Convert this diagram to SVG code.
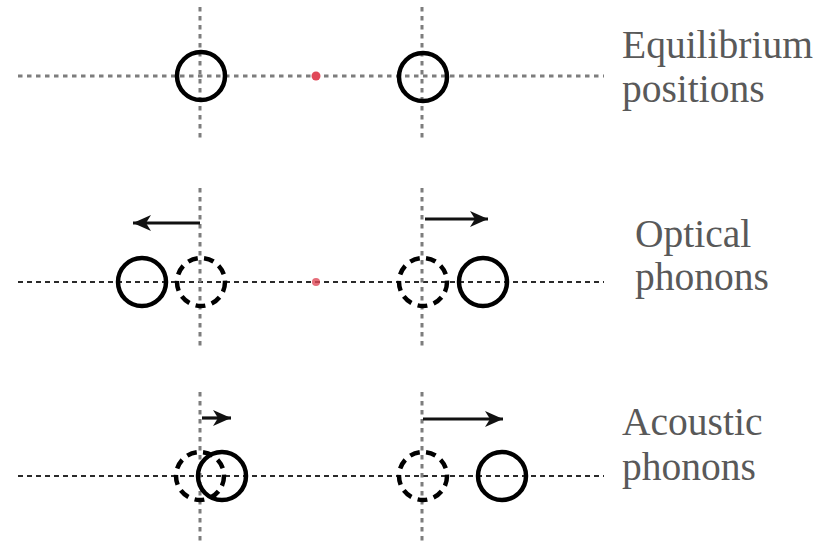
<svg xmlns="http://www.w3.org/2000/svg" width="834" height="547" viewBox="0 0 834 547">
<style>
.axis{stroke:#7d7d7d;stroke-width:3;stroke-dasharray:4.5 4.5;fill:none}
.axis2{stroke:#2a2a2a;stroke-width:1.8;stroke-dasharray:5 4;fill:none}
.atom{fill:none;stroke:#000;stroke-width:4.5}
.ghost{fill:none;stroke:#000;stroke-width:4.5;stroke-dasharray:10 6.5}
.arrow{stroke:#111;stroke-width:3.2;fill:none;marker-end:url(#ah)}
.lbl{font-family:"Liberation Serif","Times New Roman",serif;font-size:39.5px;fill:#595959}
.dot{fill:#e04858}
</style>
<defs>
<marker id="ah" markerUnits="userSpaceOnUse" markerWidth="20" markerHeight="16" refX="18" refY="8" orient="auto">
<path d="M0,0 L18,8 L0,16 L5,8 Z" fill="#111"/>
</marker>
</defs>
<g id="axes">
<line class="axis" x1="18" y1="76" x2="604" y2="76"/>
<line class="axis" x1="200" y1="7" x2="200" y2="142"/>
<line class="axis" x1="422" y1="7" x2="422" y2="142"/>
<line class="axis2" x1="18" y1="282" x2="604" y2="282"/>
<line class="axis" x1="200" y1="188" x2="200" y2="350"/>
<line class="axis" x1="422" y1="188" x2="422" y2="350"/>
<line class="axis2" x1="18" y1="476" x2="604" y2="476"/>
<line class="axis" x1="200" y1="392" x2="200" y2="543"/>
<line class="axis" x1="422" y1="392" x2="422" y2="543"/>
</g>
<g id="row1">
<circle class="atom" cx="201" cy="76" r="24"/>
<circle class="atom" cx="423" cy="77" r="24"/>
<circle class="dot" cx="316" cy="76" r="4.5"/>
</g>
<g id="row2">
<circle class="atom" cx="142" cy="282" r="24"/>
<circle class="ghost" cx="201" cy="282" r="24"/>
<circle class="ghost" cx="423" cy="282" r="24"/>
<circle class="atom" cx="483" cy="282" r="24"/>
<circle class="dot" cx="316" cy="282" r="4" opacity="0.8"/>
</g>
<g id="row3">
<circle class="ghost" cx="200" cy="476" r="24"/>
<circle class="atom" cx="222" cy="476" r="24"/>
<circle class="ghost" cx="423" cy="476" r="24"/>
<circle class="atom" cx="502" cy="476" r="24"/>
</g>
<g id="connectors">
<line class="arrow" x1="200" y1="223" x2="133" y2="223"/>
<line class="arrow" x1="425" y1="219" x2="488" y2="219"/>
<line class="arrow" x1="202" y1="418" x2="231" y2="418"/>
<line class="arrow" x1="423" y1="419" x2="503" y2="419"/>
</g>
<g id="labels">
<text class="lbl" x="622" y="58">Equilibrium</text>
<text class="lbl" x="622" y="102">positions</text>
<text class="lbl" x="635" y="247">Optical</text>
<text class="lbl" x="635" y="290">phonons</text>
<text class="lbl" x="622" y="435">Acoustic</text>
<text class="lbl" x="622" y="480">phonons</text>
</g>
</svg>
